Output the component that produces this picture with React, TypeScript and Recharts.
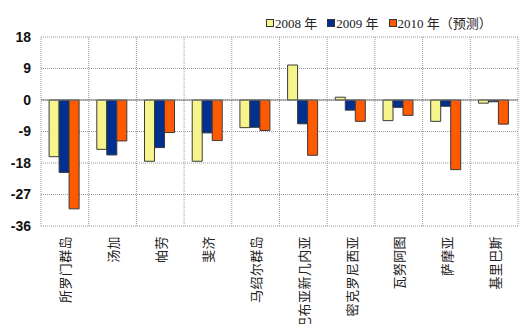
import { BarChart, Bar, XAxis, YAxis, CartesianGrid, ReferenceLine } from 'recharts'

const categories = ['所罗门群岛', '汤加', '帕劳', '斐济', '马绍尔群岛', '巴布亚新几内亚', '密克罗尼西亚', '瓦努阿图', '萨摩亚', '基里巴斯']
const y2008 = [-16.2, -14.1, -17.5, -17.5, -7.9, 10.0, 0.8, -5.9, -6.1, -0.9]
const y2009 = [-20.7, -15.7, -13.6, -9.4, -7.8, -6.8, -2.9, -2.1, -1.8, -0.5]
const y2010 = [-31.1, -11.7, -9.3, -11.6, -8.7, -15.8, -6.1, -4.4, -19.9, -6.9]
const yTicks = [-36, -27, -18, -9, 0, 9, 18]
const boundaries = [1, 2, 3, 4, 5, 6, 7, 8, 9]

const series = [
    { key: 'y2008', label: '2008 年', color: '#F5F58C' },
    { key: 'y2009', label: '2009 年', color: '#00308F' },
    { key: 'y2010', label: '2010 年（预测）', color: '#FF5A00' },
]

const data = categories.map((name, i) => ({
    name,
    idx: i,
    y2008: y2008[i],
    y2009: y2009[i],
    y2010: y2010[i],
}))

// vertical labels, characters turned sideways, anchored at the top
const CategoryTick = ({ x, y, payload }: any) => (
    <g transform={`translate(${x},${y})`}>
        <text
            transform="rotate(-90)"
            textAnchor="end"
            dominantBaseline="central"
            x={-2}
            y={0}
            fontSize={13}
            fill="#222"
            fontFamily="'Noto Sans CJK SC', sans-serif"
            letterSpacing={0.4}
        >
            {payload.value}
        </text>
    </g>
)

export default function App() {
    return (
        <div style={{ position: 'absolute', left: 0, top: 0, width: 523, height: 324, background: '#fff', overflow: 'hidden' }}>
            {/* Legend */}
            <div style={{ position: 'absolute', top: 13, left: 266, display: 'flex', alignItems: 'center', fontFamily: "'Liberation Serif', 'Noto Sans CJK SC', serif", fontSize: 13, color: '#222', zIndex: 1 }}>
                {series.map((s) => (
                    <div key={s.key} style={{ display: 'flex', alignItems: 'center', marginRight: 10 }}>
                        <span style={{ width: 6, height: 6, background: s.color, border: '1px solid #333', marginRight: 1 }} />
                        <span>{s.label}</span>
                    </div>
                ))}
            </div>

            <BarChart
                width={523}
                height={324}
                data={data}
                margin={{ top: 37, right: 5, left: 0, bottom: 0 }}
                barCategoryGap="17%"
                barGap={0}
            >
                <CartesianGrid xAxisId="grid" stroke="#9a9a9a" strokeDasharray="1 1" />
                <XAxis xAxisId="grid" type="number" dataKey="idx" domain={[0, 10]} ticks={boundaries} hide />
                <XAxis
                    dataKey="name"
                    interval={0}
                    axisLine={false}
                    tickLine={false}
                    height={98}
                    tick={<CategoryTick />}
                />
                <YAxis
                    width={41}
                    domain={[-36, 18]}
                    ticks={yTicks}
                    interval={0}
                    axisLine={false}
                    tickLine={false}
                    tickMargin={4}
                    tick={{ fontSize: 14, fontWeight: 'bold', fill: '#111', fontFamily: "'Liberation Sans Narrow', 'Liberation Sans', sans-serif" }}
                />
                <ReferenceLine y={0} stroke="#777" />
                {series.map((s) => (
                    <Bar
                        key={s.key}
                        dataKey={s.key}
                        fill={s.color}
                        stroke="#3a3a3a"
                        strokeWidth={1}
                        isAnimationActive={false}
                    />
                ))}
            </BarChart>
        </div>
    )
}
